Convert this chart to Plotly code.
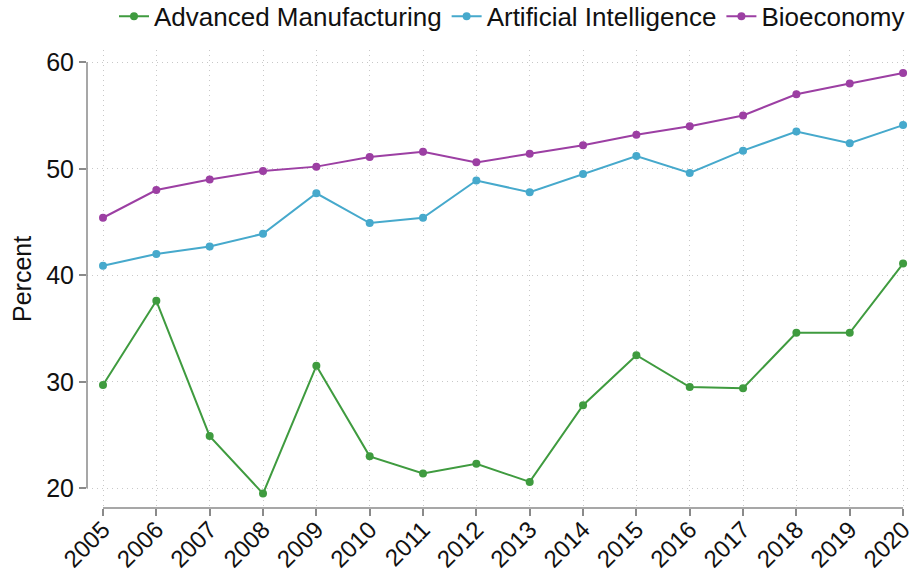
import plotly.graph_objects as go

years = list(range(2005, 2021))
adv_manufacturing = [29.7, 37.6, 24.9, 19.5, 31.5, 23.0, 21.4, 22.3, 20.6, 27.8, 32.5, 29.5, 29.4, 34.6, 34.6, 41.1]
artificial_intelligence = [40.9, 42.0, 42.7, 43.9, 47.7, 44.9, 45.4, 48.9, 47.8, 49.5, 51.2, 49.6, 51.7, 53.5, 52.4, 54.1]
bioeconomy = [45.4, 48.0, 49.0, 49.8, 50.2, 51.1, 51.6, 50.6, 51.4, 52.2, 53.2, 54.0, 55.0, 57.0, 58.0, 59.0]
y_ticks = [20, 30, 40, 50, 60]

series = [
    ("Advanced Manufacturing", adv_manufacturing, "#3f9b3f"),
    ("Artificial Intelligence", artificial_intelligence, "#46a9cc"),
    ("Bioeconomy", bioeconomy, "#9c3fa3"),
]

fig = go.Figure()
for name, vals, col in series:
    fig.add_trace(go.Scatter(
        x=years, y=vals, name=name, mode="lines+markers",
        line=dict(color=col, width=2), marker=dict(color=col, size=8),
    ))

font_family = "Liberation Sans, Arial, sans-serif"
grid_kw = dict(showgrid=True, gridcolor="#c8c8c8", griddash="1px,4px", gridwidth=1)
tick_kw = dict(ticks="outside", ticklen=7, tickcolor="#8a8a8a", tickwidth=1.5,
               showline=False, zeroline=False, automargin=False,
               ticklabeloverflow="allow")

fig.update_layout(
    width=914, height=576,
    paper_bgcolor="white", plot_bgcolor="white",
    margin=dict(l=87, r=4, t=50, b=68, autoexpand=False),
    font=dict(family=font_family, size=25, color="#111"),
    showlegend=True,
    legend=dict(orientation="h", x=1.0, xanchor="right", y=1.125, yanchor="top",
                font=dict(size=26), bgcolor="rgba(0,0,0,0)", itemwidth=30,
                tracegroupgap=0),
    xaxis=dict(
        range=[2004.7, 2020.13], tickmode="array", tickvals=years,
        ticktext=[str(y) for y in years], tickangle=-45,
        tickfont=dict(size=24, color="#111"), ticklabelstandoff=-10,
        **grid_kw, **tick_kw,
    ),
    yaxis=dict(
        range=[18.15, 61.15], tickmode="array", tickvals=y_ticks,
        tickfont=dict(size=25, color="#111"),
        **grid_kw, **tick_kw,
    ),
)

fig.add_annotation(text="Percent", xref="paper", yref="paper", x=-0.079, y=0.5,
                   xanchor="center", yanchor="middle", textangle=-90, showarrow=False,
                   font=dict(size=25, color="#111"))

# Stata-style axis lines spanning only the tick range
fig.add_shape(type="line", xref="x", yref="paper", x0=years[0], x1=years[-1], y0=0, y1=0,
              line=dict(color="#8a8a8a", width=1.5), layer="above")
fig.add_shape(type="line", xref="paper", yref="y", x0=0, x1=0, y0=y_ticks[0], y1=y_ticks[-1],
              line=dict(color="#8a8a8a", width=1.5), layer="above")

fig.write_html(
    "out.html",
    config={"displayModeBar": False},
    post_script="document.body.style.margin='0';document.body.style.overflow='hidden';",
)
